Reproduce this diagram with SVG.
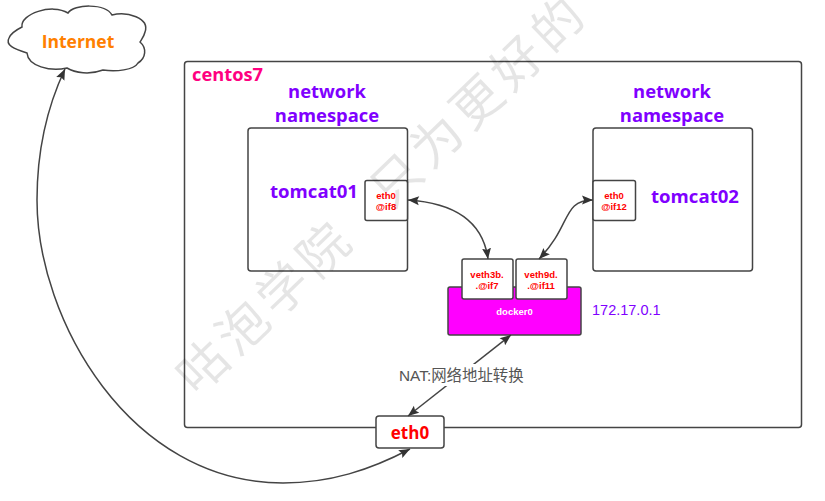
<svg xmlns="http://www.w3.org/2000/svg" width="825" height="501" viewBox="0 0 825 501">
<style>
.s{font-family:"Liberation Sans","Noto Sans CJK SC",sans-serif}
.u{font-family:"Open Sans","Noto Sans",sans-serif;font-weight:700}
.b{fill:#fff;stroke:#444;stroke-width:1.5}
.c{fill:none;stroke:#444;stroke-width:1.5;marker-end:url(#a)}
.d{marker-start:url(#r)}
.p{fill:#8000ff;font-size:18.400px;text-anchor:middle}
.t{font-family:"Liberation Sans",sans-serif;font-weight:700;fill:#ff0000;font-size:9.500px;text-anchor:middle}
</style>
<defs>
<marker id="a" markerUnits="userSpaceOnUse" markerWidth="12" markerHeight="10" refX="11" refY="4.5" orient="auto"><path d="M0 0L11 4.5L0 9L2 4.5Z" fill="#333"/></marker>
<marker id="r" markerUnits="userSpaceOnUse" markerWidth="12" markerHeight="10" refX="0" refY="4.5" orient="auto"><path d="M11 0L0 4.5L11 9L9 4.5Z" fill="#333"/></marker>
</defs>
<rect width="825" height="501" fill="#fff"/>
<g id="centos7">
<rect class="b" x="184.500" y="61.500" width="617" height="366" rx="3"/>
<text class="u" x="192" y="81" font-size="18.300" fill="#ff0080">centos7</text>
</g>
<g id="tomcat01">
<rect class="b" x="248" y="128" width="159.500" height="143" rx="3"/>
<text class="u p" x="327" y="98">network</text>
<text class="u p" x="327" y="122">namespace</text>
<text class="u" x="270" y="198" font-size="18.600" fill="#8000ff">tomcat01</text>
</g>
<g id="tomcat02">
<rect class="b" x="593" y="128" width="159.500" height="143" rx="3"/>
<text class="u p" x="672" y="98">network</text>
<text class="u p" x="672" y="122">namespace</text>
<text class="u" x="651" y="203" font-size="18.600" fill="#8000ff">tomcat02</text>
</g>
<g id="eth0-if8">
<rect class="b" x="365" y="180.500" width="42.500" height="40" rx="2"/>
<text class="t" x="386" y="198.500">eth0</text>
<text class="t" x="386" y="209.500">@if8</text>
</g>
<g id="eth0-if12">
<rect class="b" x="593" y="180.500" width="42.500" height="40" rx="2"/>
<text class="t" x="614" y="198.500">eth0</text>
<text class="t" x="614" y="209.500">@if12</text>
</g>
<g id="docker0">
<rect x="448" y="287" width="133" height="48" rx="2" fill="#ff00ff" stroke="#444" stroke-width="1.500"/>
<text class="t" x="514.500" y="314.500" style="fill:#fff">docker0</text>
</g>
<g id="veth3b">
<rect class="b" x="462" y="259" width="51" height="40" rx="2"/>
<text class="t" x="487" y="277.500">veth3b.</text>
<text class="t" x="487" y="288.500">.@if7</text>
</g>
<g id="veth9d">
<rect class="b" x="516" y="259" width="51" height="40" rx="2"/>
<text class="t" x="541" y="277.500">veth9d.</text>
<text class="t" x="541" y="288.500">.@if11</text>
</g>
<g id="eth0">
<rect class="b" x="376" y="416" width="68" height="32" rx="3"/>
<text class="u" x="410" y="439" font-size="17" fill="#ff0000" text-anchor="middle">eth0</text>
</g>
<g id="internet">
<path class="b" d="M22 27C20 14 52 3 68 13C74 4 105 3 112 15C127 11 150 18 145 32C144 37 141 40 140 42C147 48 146 58 138 63C134 70 116 72 103 70C90 75 75 73 67 68C50 72 28 66 27 53C14 49 5 45 9 38C11 33 16 30 22 27Z"/>
<text class="u" x="78" y="48" font-size="17.500" fill="#ff8000" text-anchor="middle">Internet</text>
</g>
<g id="connectors">
<path class="c d" d="M408 200C455 203 483 222 488 259"/>
<path class="c d" d="M593 200C562 200 572 225 539 259"/>
<path class="c d" d="M511 335L408 416"/>
<path class="c d" d="M410 449C370 470 330 483 283 483C130 483 37 320 37 200C37 150 48 105 65 69"/>
</g>
<rect x="398" y="364" width="127" height="22" fill="#fff"/>
<text class="s" x="399" y="381" font-size="15.400" fill="#555">NAT:网络地址转换</text>
<text id="ip" class="s" x="592" y="315" font-size="14.500" fill="#8000ff">172.17.0.1</text>
<text id="watermark" transform="translate(197,397) rotate(-44)" font-family="Noto Sans CJK SC,sans-serif" font-size="50" letter-spacing="6" word-spacing="28" fill="#000" fill-opacity=".1">咕泡学院 只为更好的</text>
</svg>
